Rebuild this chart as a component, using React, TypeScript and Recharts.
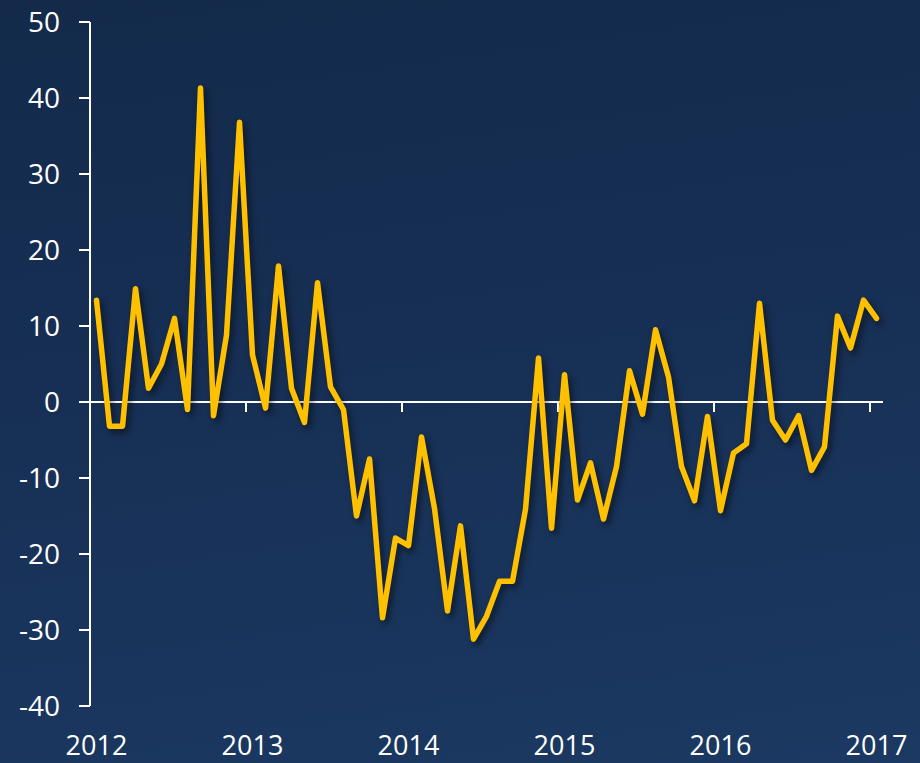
import React from 'react';
import { LineChart, Line, XAxis, YAxis, ReferenceLine } from 'recharts';

const values: number[] = [
  13.4, -3.2, -3.2, 14.9, 1.8, 5.0, 11.0, -1.0, 41.3, -1.8, 8.8, 36.8,
  6.2, -0.8, 17.9, 1.8, -2.7, 15.7, 2.0, -1.0, -15.0, -7.5, -28.4, -17.9,
  -18.9, -4.6, -14.0, -27.5, -16.3, -31.2, -28.2, -23.6, -23.6, -14.1, 5.8, -16.6,
  3.6, -12.9, -8.0, -15.4, -8.5, 4.1, -1.6, 9.5, 3.3, -8.5, -13.0, -1.9,
  -14.3, -6.7, -5.5, 13.0, -2.4, -5.0, -1.8, -9.0, -5.9, 11.3, 7.1, 13.4, 11.0,
];

const years: string[] = ['2012', '2013', '2014', '2015', '2016', '2017'];
const monthsPerYear = 12;
const yTicks: number[] = [-40, -30, -20, -10, 0, 10, 20, 30, 40, 50];

const data = values.map((v, i) => ({ i, v }));
const yearTickIdx = years.map((_, k) => k * monthsPerYear);
const boundaries = years.slice(1).map((_, k) => (k + 1) * monthsPerYear - 0.5);

const yFont = { fill: '#ffffff', fontSize: 28, fontFamily: 'Open Sans' };
const xFont = { fill: '#ffffff', fontSize: 27, fontFamily: 'Open Sans' };

export default function App() {
  return (
    <div
      style={{
        position: 'absolute',
        left: 0,
        top: 0,
        width: 920,
        height: 763,
        background: 'linear-gradient(172deg, #132a4b 0%, #172f54 45%, #1b3962 100%)',
      }}
    >
      <style>{`body{margin:0} .recharts-line-curve{filter:drop-shadow(3px 4px 3px rgba(0,0,0,0.5))}`}</style>
      <LineChart
        width={920}
        height={763}
        data={data}
        margin={{ top: 22, right: 37, bottom: 0, left: 0 }}
      >
        <XAxis
          dataKey="i"
          type="number"
          domain={[-0.5, values.length - 0.5]}
          ticks={yearTickIdx}
          tickFormatter={(i: number) => years[Math.round(i / monthsPerYear)]}
          axisLine={false}
          tickLine={false}
          tickSize={0}
          tickMargin={30}
          height={57}
          tick={xFont}
          interval={0}
        />
        <YAxis
          type="number"
          domain={[-40, 50]}
          ticks={yTicks}
          width={90}
          tick={yFont}
          tickSize={11}
          tickMargin={19}
          axisLine={{ stroke: '#ffffff', strokeWidth: 2 }}
          tickLine={{ stroke: '#ffffff', strokeWidth: 2 }}
          interval={0}
        />
        <ReferenceLine y={0} stroke="#ffffff" strokeWidth={2} />
        {boundaries.map((b) => (
          <ReferenceLine
            key={b}
            segment={[{ x: b, y: 0 }, { x: b, y: -1.3 }]}
            stroke="#ffffff"
            strokeWidth={2}
            ifOverflow="visible"
          />
        ))}
        <Line
          type="linear"
          dataKey="v"
          stroke="#FFC000"
          strokeWidth={5.5}
          dot={false}
          isAnimationActive={false}
          strokeLinejoin="round"
          strokeLinecap="round"
        />
      </LineChart>
    </div>
  );
}
